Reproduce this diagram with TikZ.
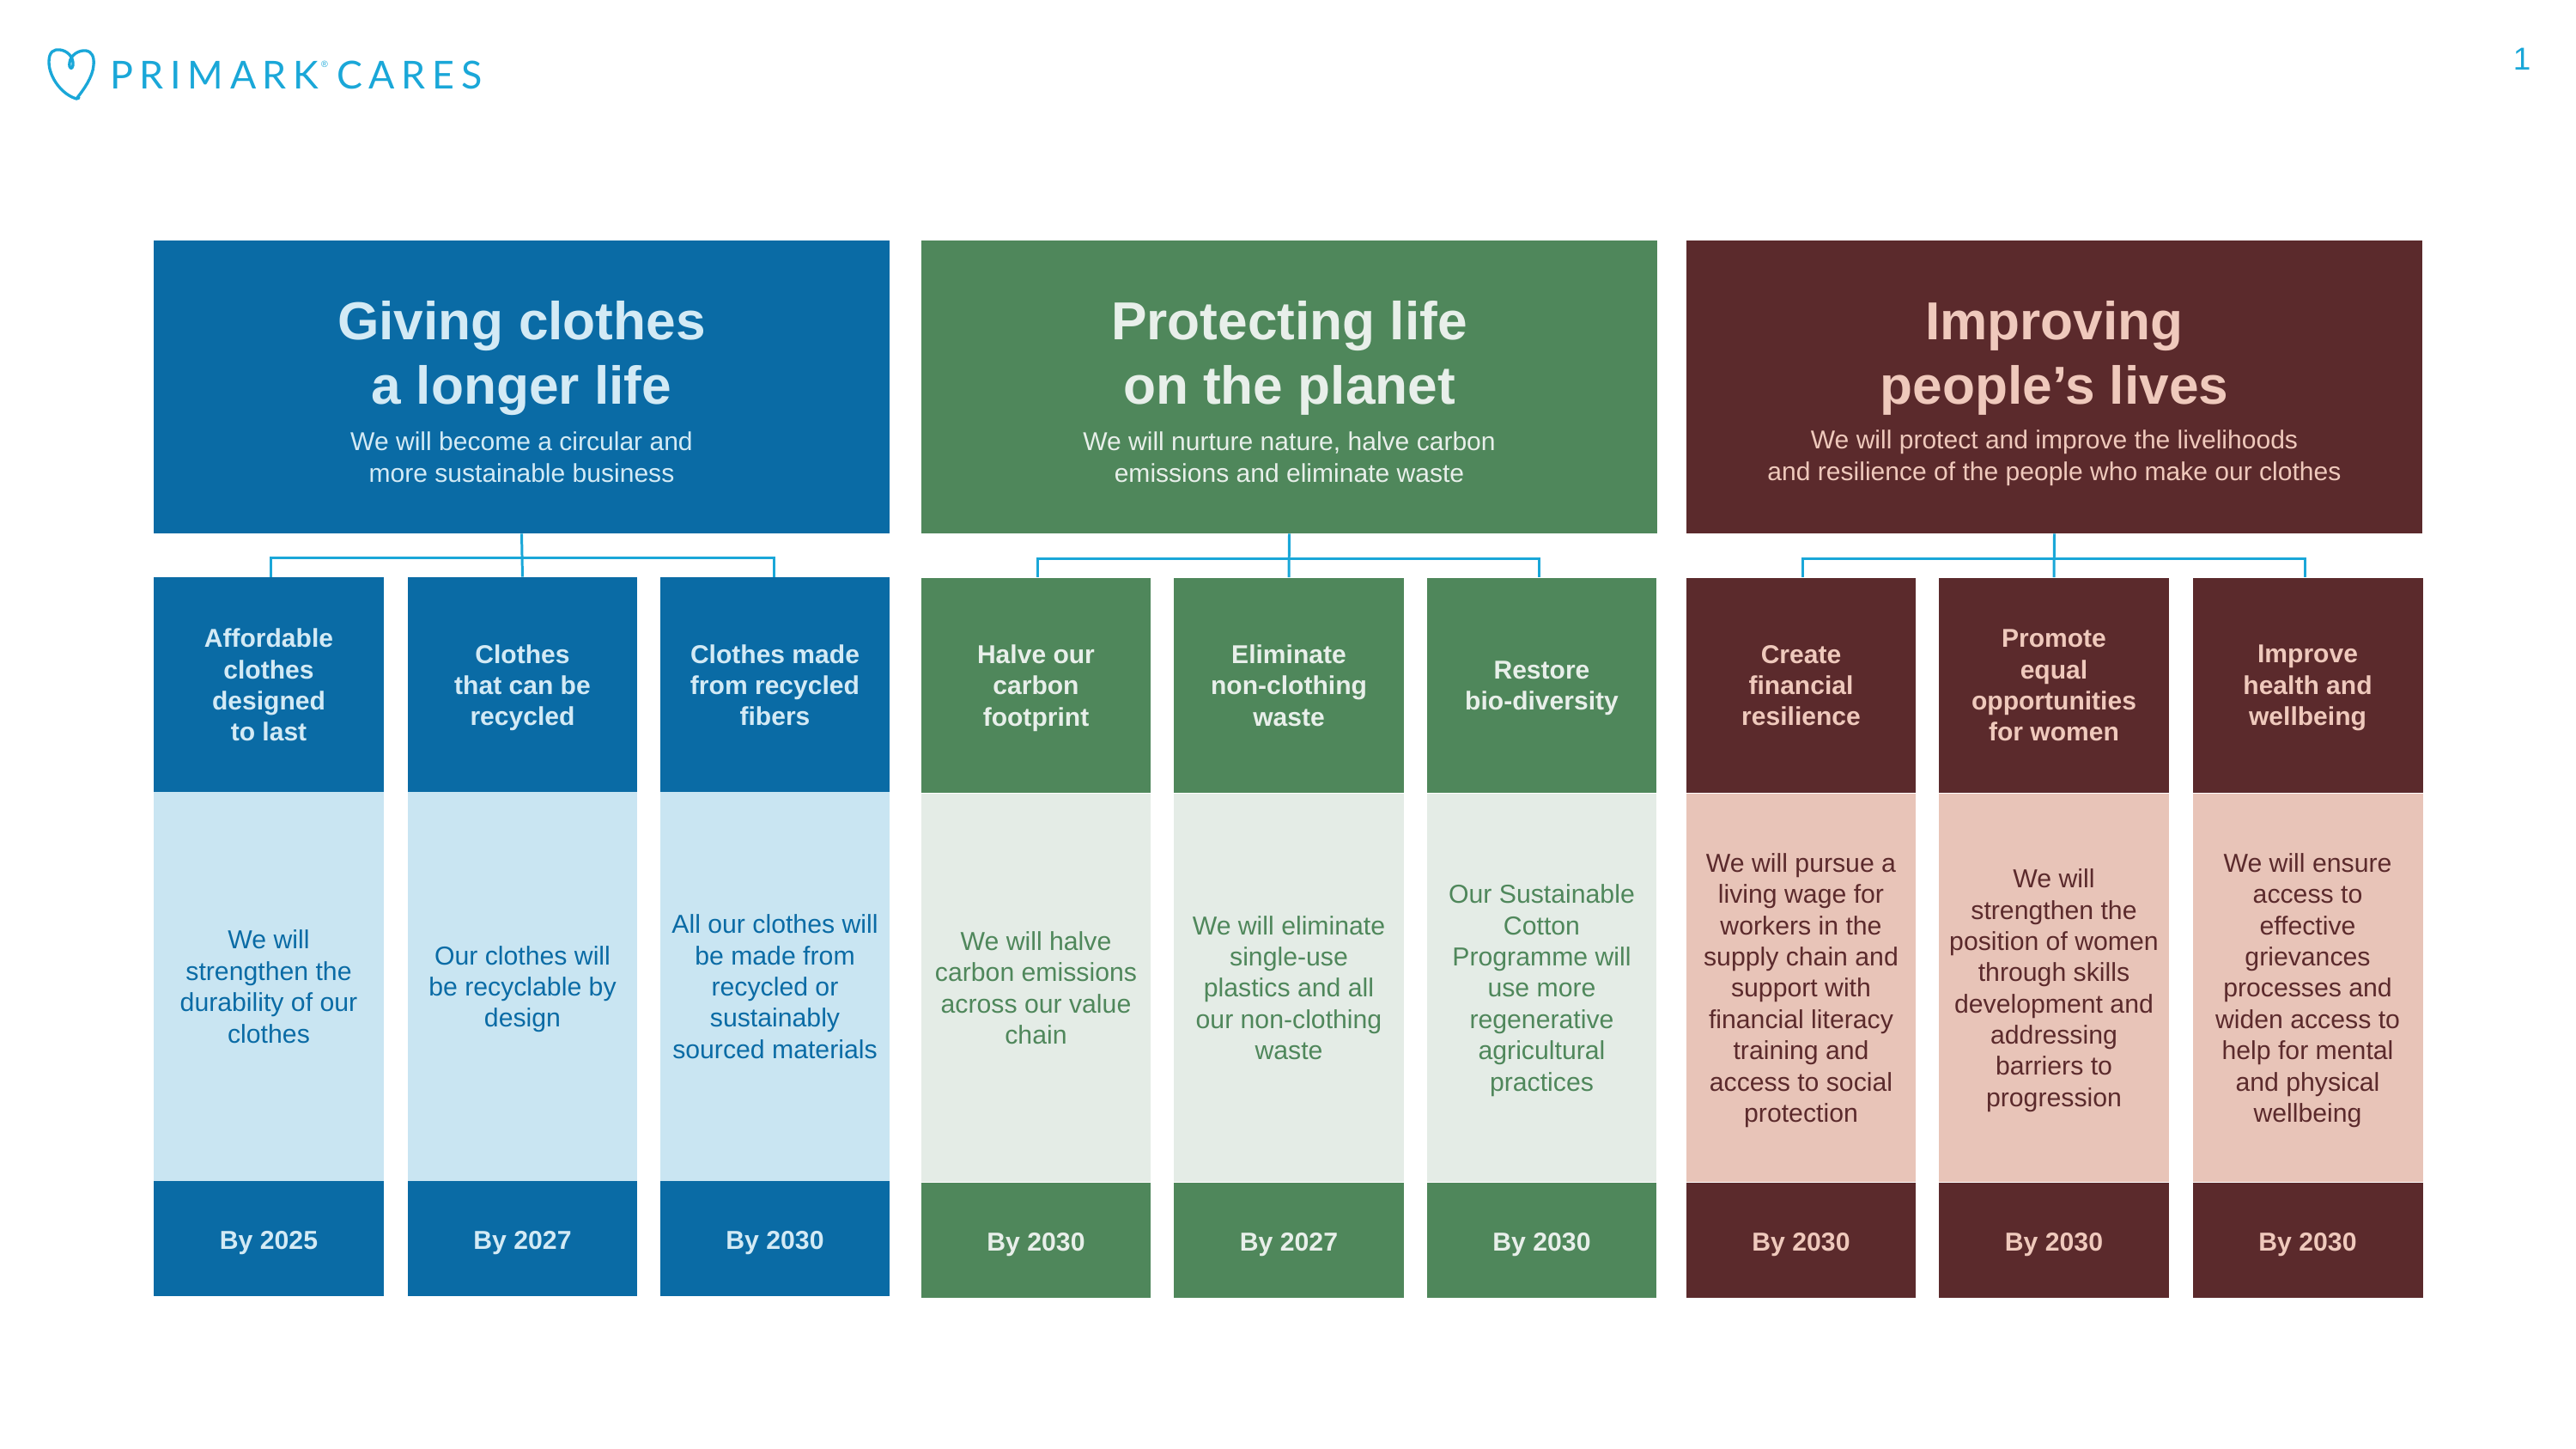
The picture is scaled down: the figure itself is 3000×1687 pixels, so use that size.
\documentclass[tikz,border=0pt]{standalone}
\usepackage{fontspec}
\setmainfont{Liberation Sans}
\newfontfamily\logofont[LetterSpace=17]{Lato}
\definecolor{brandblue}{HTML}{0A6BA5}
\definecolor{brandgreen}{HTML}{4F875B}
\definecolor{brandred}{HTML}{5B2A2C}
\definecolor{paleblue}{HTML}{C9E5F2}
\definecolor{palegreen}{HTML}{E4ECE6}
\definecolor{palered}{HTML}{E8C4B8}
\definecolor{inkblue}{HTML}{D3EAF5}
\definecolor{inkgreen}{HTML}{E8EFEA}
\definecolor{inkred}{HTML}{EFC9BC}
\definecolor{linkcyan}{HTML}{1AA7D8}
\tikzset{
  headbox/.style={minimum width=17.14cm,minimum height=6.82cm,inner sep=0pt},
  titletext/.style={inner sep=0pt,align=center,font=\fontsize{35.4}{42.5}\selectfont\bfseries},
  straptext/.style={inner sep=0pt,align=center,font=\fontsize{17.1}{20.8}\selectfont},
  cell/.style={minimum width=5.36cm,inner sep=0pt,align=center},
  subhead/.style={cell,minimum height=5.02cm,font=\fontsize{17.1}{20.7}\selectfont\bfseries,text depth=-2.5pt},
  bodybox/.style={cell,minimum height=9.06cm,font=\fontsize{17.2}{20.7}\selectfont,text depth=-3.2pt},
  datebox/.style={cell,minimum height=2.68cm,font=\fontsize{17.2}{20.7}\selectfont\bfseries,execute at begin node={\rule{0pt}{18pt}}},
  link/.style={draw=linkcyan,line width=1.7pt},
  logotext/.style={inner sep=0pt,text=linkcyan,font=\fontsize{25.5}{30}\logofont}
}
\begin{document}
\begin{tikzpicture}[x=0.02cm,y=-0.02cm]
\useasboundingbox (0,0) rectangle (3000,1687);
\draw[draw=linkcyan,line width=1.9pt,line cap=round,line join=round] (92,114) -- (89,115) .. controls (72,110) and (57,90) .. (57,72) .. controls (57,60) and (63,57) .. (70,58) .. controls (78,59) and (86,66) .. (85,76) .. controls (84,82) and (80,80) .. (81,73) .. controls (82,64) and (92,58) .. (100,59) .. controls (107,60) and (110,66) .. (109,76) .. controls (108,90) and (97,105) .. (89,115);
\node[logotext,anchor=base west] (primark) at (128,103) {PRIMARK};
\node[inner sep=0pt,text=linkcyan,font=\fontsize{6}{7}\selectfont] (mark) at (378,75) {®};
\node[logotext,anchor=base west] (cares) at (392,103) {CARES};
\node[inner sep=0pt,text=linkcyan,font=\fontsize{21}{25}\selectfont] (pageno) at (2937,69) {1};

\node[headbox,fill=brandblue] (headA) at (607.5,450.5) {};
\node[headbox,fill=brandgreen] (headB) at (1501.5,450.5) {};
\node[headbox,fill=brandred] (headC) at (2392.5,450.5) {};
\node[titletext,text=inkblue] (titleA) at (607.5,417) {Giving clothes\\a longer life};
\node[titletext,text=inkgreen] (titleB) at (1501.5,417) {Protecting life\\on the planet};
\node[titletext,text=inkred] (titleC) at (2392.5,417) {Improving\\people’s lives};
\node[straptext,text=inkblue] (strapA) at (607.5,532) {We will become a circular and\\more sustainable business};
\node[straptext,text=inkgreen] (strapB) at (1501.5,532) {We will nurture nature, halve carbon\\emissions and eliminate waste};
\node[straptext,text=inkred] (strapC) at (2392.5,533) {We will protect and improve the livelihoods\\and resilience of the people who make our clothes};

\node[subhead,fill=brandblue,text=inkblue,text depth=-5pt] (subA1) at (313,797.5) {Affordable\\clothes\\designed\\to last};
\node[subhead,fill=brandblue,text=inkblue] (subA2) at (608.5,797.5) {Clothes\\that can be\\recycled};
\node[subhead,fill=brandblue,text=inkblue] (subA3) at (902.5,797.5) {Clothes made\\from recycled\\fibers};
\node[subhead,fill=brandgreen,text=inkgreen] (subB1) at (1206.5,798) {Halve our\\carbon\\footprint};
\node[subhead,fill=brandgreen,text=inkgreen] (subB2) at (1501,798) {Eliminate\\non-clothing\\waste};
\node[subhead,fill=brandgreen,text=inkgreen] (subB3) at (1795.5,798) {Restore\\bio-diversity};
\node[subhead,fill=brandred,text=inkred] (subC1) at (2097.5,798) {Create\\financial\\resilience};
\node[subhead,fill=brandred,text=inkred,text depth=-5pt] (subC2) at (2392,798) {Promote\\equal\\opportunities\\for women};
\node[subhead,fill=brandred,text=inkred] (subC3) at (2687.5,798) {Improve\\health and\\wellbeing};

\node[bodybox,fill=paleblue,text=brandblue] (bodyA1) at (313,1148.5) {We will\\strengthen the\\durability of our\\clothes};
\node[bodybox,fill=paleblue,text=brandblue] (bodyA2) at (608.5,1148.5) {Our clothes will\\be recyclable by\\design};
\node[bodybox,fill=paleblue,text=brandblue] (bodyA3) at (902.5,1148.5) {All our clothes will\\be made from\\recycled or\\sustainably\\sourced materials};
\node[bodybox,fill=palegreen,text=brandgreen] (bodyB1) at (1206.5,1150) {We will halve\\carbon emissions\\across our value\\chain};
\node[bodybox,fill=palegreen,text=brandgreen] (bodyB2) at (1501,1150) {We will eliminate\\single-use\\plastics and all\\our non-clothing\\waste};
\node[bodybox,fill=palegreen,text=brandgreen] (bodyB3) at (1795.5,1150) {Our Sustainable\\Cotton\\Programme will\\use more\\regenerative\\agricultural\\practices};
\node[bodybox,fill=palered,text=brandred] (bodyC1) at (2097.5,1150) {We will pursue a\\living wage for\\workers in the\\supply chain and\\support with\\financial literacy\\training and\\access to social\\protection};
\node[bodybox,fill=palered,text=brandred] (bodyC2) at (2392,1150) {We will\\strengthen the\\position of women\\through skills\\development and\\addressing\\barriers to\\progression};
\node[bodybox,fill=palered,text=brandred] (bodyC3) at (2687.5,1150) {We will ensure\\access to\\effective\\grievances\\processes and\\widen access to\\help for mental\\and physical\\wellbeing};

\node[datebox,fill=brandblue,text=inkblue] (dateA1) at (313,1442) {By 2025};
\node[datebox,fill=brandblue,text=inkblue] (dateA2) at (608.5,1442) {By 2027};
\node[datebox,fill=brandblue,text=inkblue] (dateA3) at (902.5,1442) {By 2030};
\node[datebox,fill=brandgreen,text=inkgreen] (dateB1) at (1206.5,1443.5) {By 2030};
\node[datebox,fill=brandgreen,text=inkgreen] (dateB2) at (1501,1443.5) {By 2027};
\node[datebox,fill=brandgreen,text=inkgreen] (dateB3) at (1795.5,1443.5) {By 2030};
\node[datebox,fill=brandred,text=inkred] (dateC1) at (2097.5,1443.5) {By 2030};
\node[datebox,fill=brandred,text=inkred] (dateC2) at (2392,1443.5) {By 2030};
\node[datebox,fill=brandred,text=inkred] (dateC3) at (2687.5,1443.5) {By 2030};

\coordinate (forkA) at (608,649);
\coordinate (forkB) at (1501,650);
\coordinate (forkC) at (2392,650);
\draw[link] (headA.south) -- (subA2.north);
\draw[link] (forkA) -| ([xshift=0.05cm]subA1.north);
\draw[link] (forkA) -| ([xshift=-0.03cm]subA3.north);
\draw[link] (headB.south) -- (subB2.north);
\draw[link] (forkB) -| ([xshift=0.03cm]subB1.north);
\draw[link] (forkB) -| ([xshift=-0.07cm]subB3.north);
\draw[link] (headC.south) -- (subC2.north);
\draw[link] (forkC) -| ([xshift=0.03cm]subC1.north);
\draw[link] (forkC) -| ([xshift=-0.07cm]subC3.north);
\end{tikzpicture}
\end{document}
